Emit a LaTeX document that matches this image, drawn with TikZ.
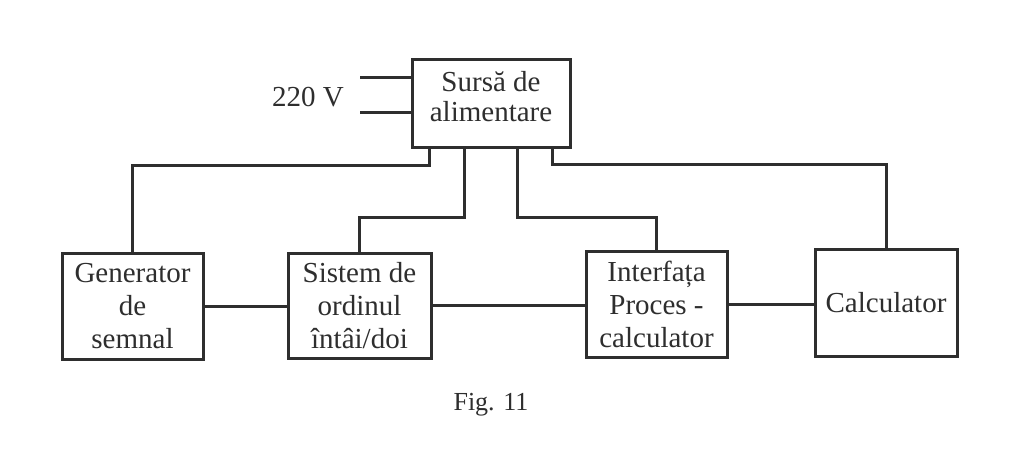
\documentclass[tikz,border=0pt]{standalone}
\usepackage{fontspec}
\setmainfont{Liberation Serif}
\usetikzlibrary{calc}
\definecolor{ink}{HTML}{2E2E2E}
\begin{document}
\begin{tikzpicture}[x=1pt,y=-1pt,
  blk/.style={draw=ink,line width=3pt,rectangle,inner sep=0pt,outer sep=0pt,
    align=center,text=ink,font=\fontsize{29}{33}\selectfont},
  wire/.style={draw=ink,line width=3pt},
  lbl/.style={text=ink,inner sep=0pt,align=center,font=\fontsize{29}{33}\selectfont}]
\useasboundingbox (0,0) rectangle (1015,467);
\fill[white] (0,0) rectangle (1015,467);
\node[blk,minimum width=158pt,minimum height=88pt] (src) at (491,103) {};
\node[lbl] (srctxt) at (491,97) {Sursă de\\[-3pt]alimentare};
\node[blk,minimum width=141pt,minimum height=106pt] (gen) at (132.5,306) {Generator\\de\\semnal};
\node[blk,minimum width=143pt,minimum height=105pt] (sys) at (359.5,305.5) {Sistem de\\ordinul\\întâi/doi};
\node[blk,minimum width=141pt,minimum height=106pt] (intf) at (656.5,304) {Interfața\\Proces -\\calculator};
\node[blk,minimum width=142pt,minimum height=107pt] (calc) at (886,302.5) {Calculator};
\node[lbl] (v) at (308,97) {220 V};
\node[lbl,font=\fontsize{26}{30}\selectfont] (fig) at (491,405) {Fig. 11};
\coordinate (p1) at (360,77);
\coordinate (p2) at (360,112);
\coordinate (s1) at (429,165);
\coordinate (s2) at (464,217);
\coordinate (s3) at (517,217);
\coordinate (s4) at (552,164);
\draw[wire] (p1) -- (p1 -| src.west);
\draw[wire] (p2) -- (p2 -| src.west);
\draw[wire] (src.south -| s1) -- (s1) -| (gen.north);
\draw[wire] (src.south -| s2) -- (s2) -| (sys.north);
\draw[wire] (src.south -| s3) -- (s3) -| (intf.north);
\draw[wire] (src.south -| s4) -- (s4) -| (calc.north);
\draw[wire] (gen.east) -- (gen.east -| sys.west);
\draw[wire] (sys.east) -- (sys.east -| intf.west);
\draw[wire] (intf.east) -- (intf.east -| calc.west);
\end{tikzpicture}
\end{document}
